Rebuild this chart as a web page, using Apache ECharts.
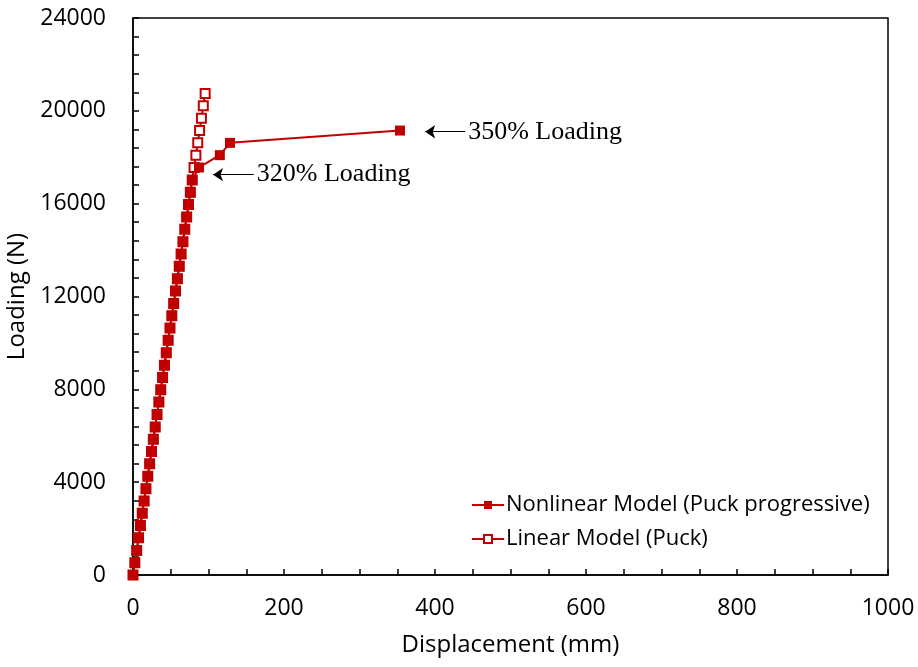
<!DOCTYPE html>
<html>
<head>
<meta charset="utf-8">
<script src="https://cdn.jsdelivr.net/npm/echarts@6/dist/echarts.min.js"></script>
<style>html,body{margin:0;padding:0;background:#fff}#c{width:918px;height:667px}</style>
</head>
<body>
<div id="c"></div>
<script>
// Loading values (N) per load step
const loadSteps = [0, 530, 1060, 1600, 2130, 2660, 3190, 3720, 4260, 4790, 5320, 5850, 6380, 6920, 7450, 7980, 8510, 9040, 9580, 10110, 10640, 11170, 11700, 12240, 12770, 13300, 13830, 14360, 14900, 15430, 15960, 16490, 17020, 17560, 18090, 18620, 19150, 19680, 20220, 20750];
// Linear Model (Puck) displacement (mm)
const linearDisp = [0, 2.45, 4.9, 7.35, 9.8, 12.25, 14.7, 17.15, 19.6, 22.05, 24.5, 26.95, 29.4, 31.85, 34.3, 36.75, 39.2, 41.65, 44.1, 46.55, 49, 51.45, 53.9, 56.35, 58.8, 61.25, 63.7, 66.15, 68.6, 71.05, 73.5, 75.95, 78.4, 80.85, 83.3, 85.75, 88.2, 90.65, 93.1, 95.55];
// Nonlinear Model (Puck progressive) displacement (mm)
const nonlinearDisp = [0, 2.45, 4.9, 7.35, 9.8, 12.25, 14.7, 17.15, 19.6, 22.05, 24.5, 26.95, 29.4, 31.85, 34.3, 36.75, 39.2, 41.65, 44.1, 46.55, 49, 51.45, 53.9, 56.35, 58.8, 61.25, 63.7, 66.15, 68.6, 71.05, 73.5, 75.95, 78.4, 87.4, 115, 128.5, 353.6];

const seriesNames = ['Nonlinear Model (Puck progressive)', 'Linear Model (Puck)'];
// Annotations: [text, arrow tip x, arrow tail x, y]
const annotations = [
  ['350% Loading', 387, 440, 19100],
  ['320% Loading', 106, 160, 17250]
];

const nonlinearData = nonlinearDisp.map((d, i) => [d, loadSteps[i]]);
const linearData = linearDisp.map((d, i) => [d, loadSteps[i]]);
const red = '#C00000';
const sans = '"Open Sans", sans-serif';

const chart = echarts.init(document.getElementById('c'), null, {renderer: 'canvas'});
chart.setOption({
  animation: false,
  grid: {left: 133, right: 30, top: 18, bottom: 92, containLabel: false, outerBoundsMode: 'none', show: true, borderColor: '#000', borderWidth: 1.5, backgroundColor: 'transparent'},
  legend: {
    data: seriesNames,
    orient: 'vertical',
    left: 466, top: 489,
    itemWidth: 32, itemHeight: 10, itemGap: 12,
    textStyle: {fontFamily: sans, fontSize: 22, color: '#000', padding: [0, 0, 0, -3]}
  },
  xAxis: {
    type: 'value', min: 0, max: 1000, interval: 200,
    name: 'Displacement (mm)', nameLocation: 'middle', nameGap: 58,
    nameTextStyle: {fontFamily: sans, fontSize: 24, color: '#000'},
    axisLine: {show: true, lineStyle: {color: '#000', width: 1.5}},
    axisTick: {show: true, inside: true, length: 6, lineStyle: {color: '#000', width: 1.5}},
    minorTick: {show: true, splitNumber: 4, length: 6, lineStyle: {color: '#000', width: 1.5}},
    axisLabel: {fontFamily: sans, fontSize: 23, color: '#000', margin: 22, formatter: v => String(v)},
    splitLine: {show: false}
  },
  yAxis: {
    type: 'value', min: 0, max: 24000, interval: 4000,
    name: 'Loading (N)', nameLocation: 'middle', nameGap: 92,
    nameTextStyle: {fontFamily: sans, fontSize: 24, color: '#000'},
    axisLine: {show: true, lineStyle: {color: '#000', width: 1.5}},
    axisTick: {show: true, inside: true, length: 6, lineStyle: {color: '#000', width: 1.5}},
    minorTick: {show: true, splitNumber: 5, length: 6, lineStyle: {color: '#000', width: 1.5}},
    axisLabel: {fontFamily: sans, fontSize: 23, color: '#000', margin: 27, formatter: v => String(v)},
    splitLine: {show: false}
  },
  series: [
    {
      name: seriesNames[1], type: 'line', data: linearData, z: 2,
      symbol: 'emptyRect', symbolSize: 9, showAllSymbol: true,
      lineStyle: {color: red, width: 2},
      itemStyle: {color: red, borderColor: red, borderWidth: 2}
    },
    {
      name: seriesNames[0], type: 'line', data: nonlinearData, z: 3,
      symbol: 'rect', symbolSize: 10, showAllSymbol: true,
      lineStyle: {color: red, width: 2},
      itemStyle: {color: red},
      markLine: {
        silent: true, symbol: ['arrow', 'none'], symbolSize: 10,
        lineStyle: {color: '#000', width: 1.2, type: 'solid'},
        label: {show: true, position: 'end', formatter: p => p.name, fontFamily: '"Liberation Serif", "Times New Roman", serif', fontSize: 26, color: '#000', distance: 3},
        data: annotations.map(a => [
          {name: a[0], coord: [a[1], a[3]]},
          {coord: [a[2], a[3]]}
        ])
      }
    }
  ]
});
</script>
</body>
</html>
